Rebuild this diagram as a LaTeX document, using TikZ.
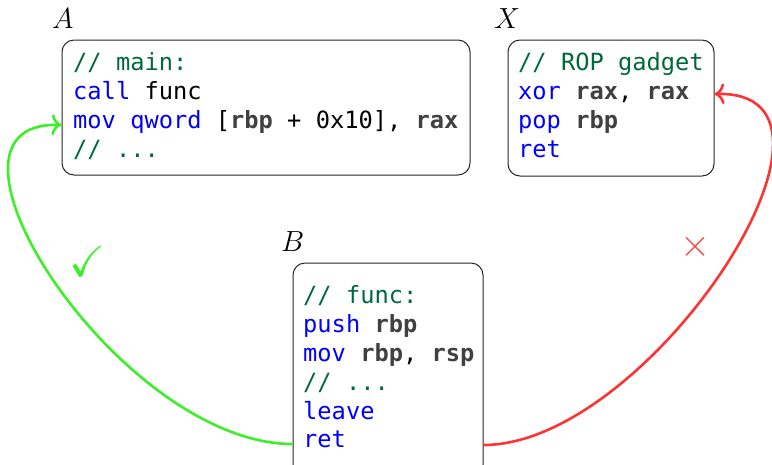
\documentclass[tikz,border=0pt]{standalone}
\usepackage{amssymb}
\usepackage{fontspec}
\setmonofont{DejaVu Sans Mono}
\usetikzlibrary{calc,arrows.meta}

\definecolor{cmtgreen}{RGB}{0,105,60}
\definecolor{kwblue}{RGB}{0,0,255}
\definecolor{reggray}{RGB}{64,64,64}
\definecolor{okgreen}{RGB}{60,240,40}
\definecolor{badred}{RGB}{255,51,51}

% syntax colouring for the assembly listings
\newcommand{\cmt}[1]{\textcolor{cmtgreen}{#1}}
\newcommand{\kw}[1]{\textcolor{kwblue}{#1}}
\newcommand{\reg}[1]{\textcolor{reggray}{\bfseries #1}}

\tikzset{
  codebox/.style={draw=black!85, line width=1pt, rounded corners=12pt, inner sep=0pt},
  codeline/.style={anchor=base west, inner sep=0pt,
    font=\ttfamily\fontsize{23.7}{29}\selectfont},
  boxlabel/.style={anchor=base west, inner sep=0pt,
    font=\fontsize{24.88}{30}\selectfont},
  flow/.style={line width=2.6pt, -{To[scale=1.35]}},
}

\begin{document}
\begin{tikzpicture}[x=1pt, y=-1pt]
\useasboundingbox (0,0) rectangle (772,464);

% caller A
\node[codebox, minimum width=408pt, minimum height=135pt] (A) at (266,107.5) {};
\node[boxlabel] (LA) at (52,28) {\scalebox{1.17}{$A$}};
\node[codeline] (A1) at (73,70)  {\cmt{// main:}};
\node[codeline] (A2) at (73,99)  {\kw{call} func};
\node[codeline] (A3) at (73,128) {\kw{mov qword} [\reg{rbp} + 0x10], \reg{rax}};
\node[codeline] (A4) at (73,157) {\cmt{// ...}};

% gadget X
\node[codebox, minimum width=206pt, minimum height=136pt] (X) at (611,108) {};
\node[boxlabel] (LX) at (494,28) {\scalebox{1.17}{$X$}};
\node[codeline] (X1) at (518,70)  {\cmt{// ROP gadget}};
\node[codeline] (X2) at (518,99)  {\kw{xor} \reg{rax}, \reg{rax}};
\node[codeline] (X3) at (518,128) {\kw{pop} \reg{rbp}};
\node[codeline] (X4) at (518,157) {\kw{ret}};

% callee B
\node[codebox, minimum width=190pt, minimum height=214pt] (B) at (388,370) {};
\node[boxlabel] (LB) at (281,251) {\scalebox{1.17}{$B$}};
\node[codeline] (B1) at (303,303) {\cmt{// func:}};
\node[codeline] (B2) at (303,332) {\kw{push} \reg{rbp}};
\node[codeline] (B3) at (303,361) {\kw{mov} \reg{rbp}, \reg{rsp}};
\node[codeline] (B4) at (303,390) {\cmt{// ...}};
\node[codeline] (B5) at (303,419) {\kw{leave}};
\node[codeline] (B6) at (303,447) {\kw{ret}};

% return paths
\draw[flow, okgreen] ($(B.west |- B6.base)+(0,-3)$)
  .. controls +(-173,0) and +(-152,-5) .. ($(A.west |- A3.base)+(0,-3)$);
\draw[flow, badred] ($(B.east |- B6.base)+(0,-2)$)
  .. controls +(167,0) and +(166,-4) .. ($(X.east |- X2.base)+(0,-5)$);

\node[text=okgreen, font=\fontsize{24.88}{30}\selectfont, inner sep=0pt] (ok) at (88,261)
  {\scalebox{1.75}{$\checkmark$}};
\node[text=badred!90, font=\fontsize{24.88}{30}\selectfont, inner sep=0pt] (bad) at (695.5,247)
  {\scalebox{1.55}{$\times$}};
\end{tikzpicture}
\end{document}
